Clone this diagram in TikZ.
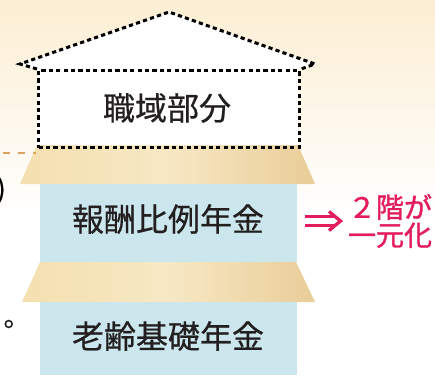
\documentclass[tikz,border=0pt]{standalone}
\usepackage{fontspec}
\setmainfont{Noto Sans CJK JP}
\newfontfamily\labelfont[FakeBold=0.6]{Noto Sans CJK JP}
\newfontfamily\redfont[FakeBold=1.2]{Noto Sans CJK JP}
\definecolor{bgtop}{HTML}{FCEED3}
\definecolor{tanL}{HTML}{F4E0B0}
\definecolor{tanM}{HTML}{F7E8C4}
\definecolor{tanR}{HTML}{E9CD98}
\definecolor{bluefill}{HTML}{CBE7ED}
\definecolor{redtxt}{HTML}{E31C5C}
\definecolor{inktxt}{HTML}{231F20}
\definecolor{orangedash}{HTML}{D9A45E}
\tikzset{
  tan/.style={left color=tanL, right color=tanR, middle color=tanM, draw=none},
  bluebox/.style={fill=bluefill, draw=none},
  blackdash/.style={draw=black, line width=3pt, dash pattern=on 4.2pt off 3.2pt},
  label/.style={text=inktxt, font=\labelfont\fontsize{32}{34}\selectfont, inner sep=0pt},
  redlabel/.style={text=redtxt, font=\redfont\fontsize{28}{28}\selectfont, inner sep=0pt, align=center},
  redstroke/.style={draw=redtxt, line width=3.3pt}
}
\begin{document}
\begin{tikzpicture}[x=1pt,y=-1pt]
\useasboundingbox (0,0) rectangle (435,375);
% background
\fill[top color=bgtop, bottom color=white] (0,0) rectangle (435,215);
\fill[white] (0,215) rectangle (435,375);
% roof and upper box (white interior)
\fill[white] (37,69) -- (20,64) -- (169,12) -- (315,64) -- (298,69) -- (298,146) -- (37,146) -- cycle;
% tan floors
\path[tan] (37,145) -- (298,145) -- (315,184) -- (20,184) -- cycle;
\path[tan] (40,262) -- (296,262) -- (315,302) -- (22,302) -- cycle;
% blue boxes
\node[bluebox, minimum width=257pt, minimum height=78pt, inner sep=0pt, anchor=north west] (blue1) at (40,184) {};
\node[bluebox, minimum width=257pt, minimum height=73pt, inner sep=0pt, anchor=north west] (blue2) at (40,302) {};
% dashed house
\node[blackdash, minimum width=261pt, minimum height=77pt, inner sep=0pt, anchor=north west] (upper) at (37,69) {};
\coordinate (apex) at (169,12);
\coordinate (eaveL) at (20,64);
\coordinate (eaveR) at (315,64);
\draw[blackdash] (upper.north west) -- (eaveL) -- (apex) -- (eaveR) -- (upper.north east);
% labels
\node[label] (t1) at (167,108) {職域部分};
\node[label] (t2) at (168,219) {報酬比例年金};
\node[label] (t3) at (168,336) {老齢基礎年金};
% left fragments
\coordinate (dl1) at (3,153);
\coordinate (dl2) at (36,153);
\draw[orangedash, line width=1.6pt, dash pattern=on 7pt off 8pt] (dl1) -- (dl2);
\node[text=black, font=\labelfont\fontsize{27}{28}\selectfont, inner sep=0pt, anchor=east] (paren) at (6,190) {)};
\node[text=inktxt, font=\labelfont\fontsize{27}{28}\selectfont, inner sep=0pt] (maru) at (17,324) {。};
% red arrow (double arrow) and text
\coordinate (au1) at (305,216.5);
\coordinate (au2) at (335,216.5);
\coordinate (al1) at (305,225.5);
\coordinate (al2) at (335,225.5);
\coordinate (h1) at (329,211.5);
\coordinate (h2) at (340.5,221);
\coordinate (h3) at (329,230.5);
\draw[redstroke] (au1) -- (au2);
\draw[redstroke] (al1) -- (al2);
\draw[redstroke, miter limit=4] (h1) -- (h2) -- (h3);
\node[redlabel] (two) at (390,221) {２階が\\一元化};
\end{tikzpicture}
\end{document}
